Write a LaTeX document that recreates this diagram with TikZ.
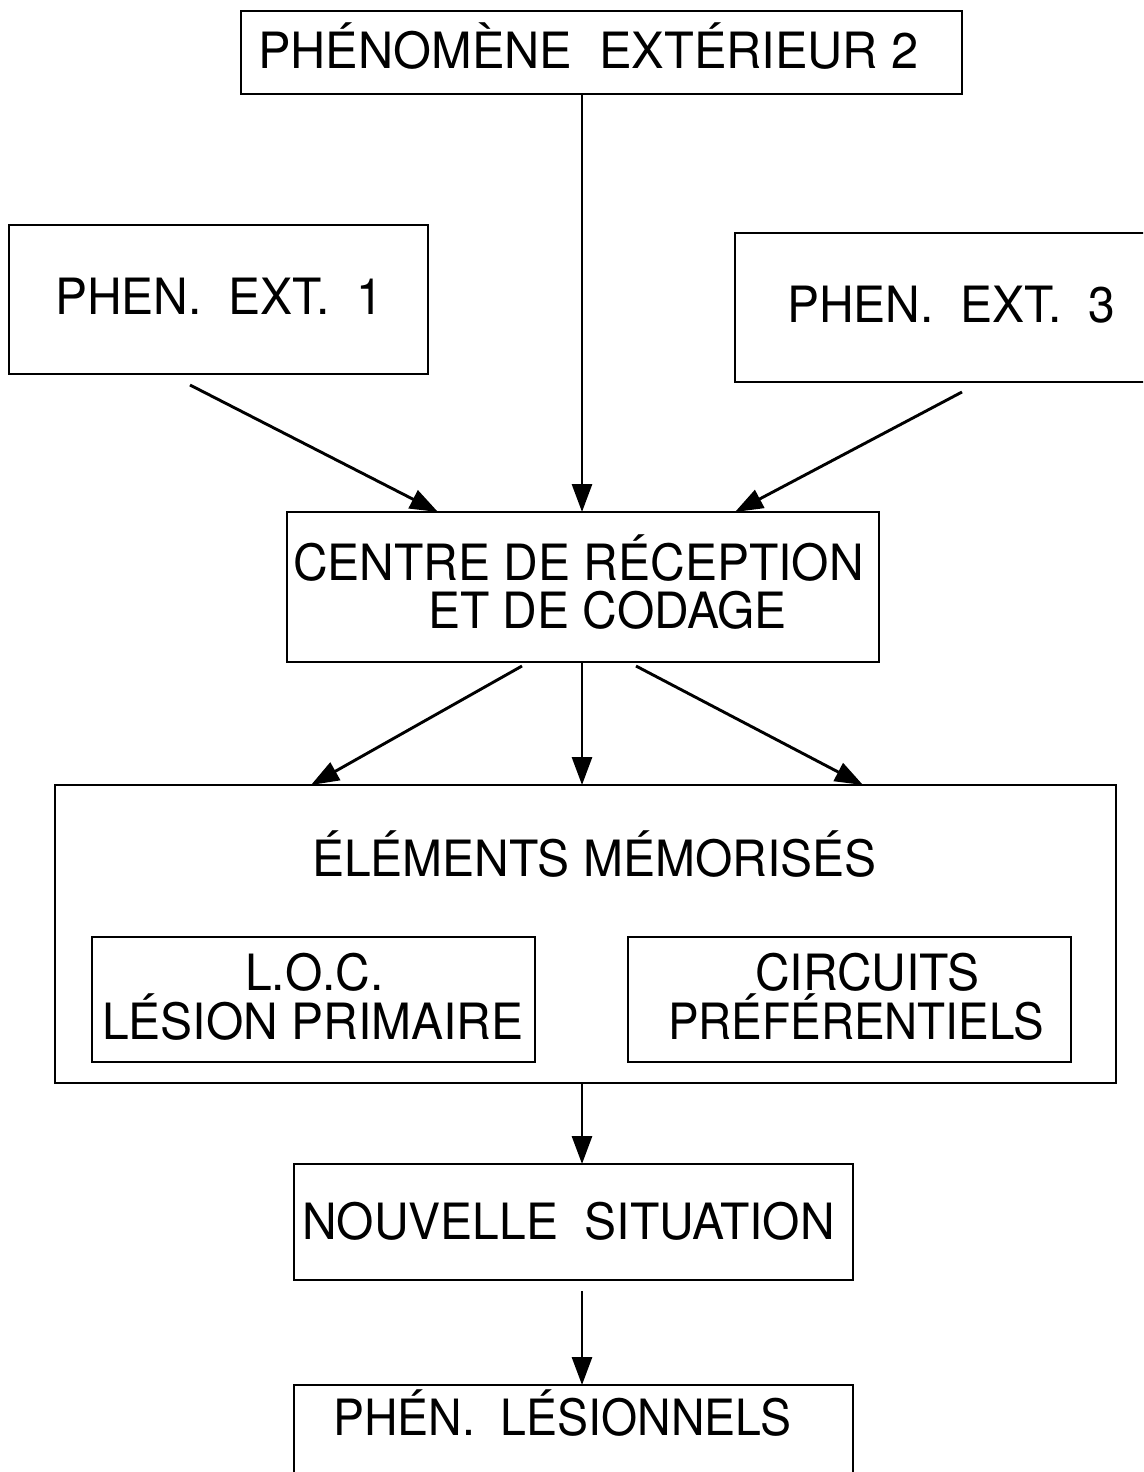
\documentclass[tikz,border=0pt]{standalone}
\usepackage{fontspec}
\usepackage{graphicx}
\setmainfont{TeX Gyre Heros}[FakeStretch=0.96]
\usetikzlibrary{arrows.meta,calc}
\begin{document}
\begin{tikzpicture}[x=1pt,y=-1pt,
  box/.style={draw,line width=2.8pt,anchor=north west,inner sep=0pt,outer sep=0pt},
  lbl/.style={anchor=base west,inner sep=0pt,font=\fontsize{50}{58}\selectfont},
  arr/.style={line width=2.9pt,-{Triangle[length=28pt,width=20pt]}}]
\useasboundingbox (0,0) rectangle (1143,1472);
\clip (0,0) rectangle (1143,1472);

% boxes
\node[box,minimum width=721pt,minimum height=83pt]  (ext2)   at (241,11)   {};
\node[box,minimum width=419pt,minimum height=149pt] (ext1)   at (9,225)    {};
\node[box,minimum width=430pt,minimum height=149pt] (ext3)   at (735,233)  {};
\node[box,minimum width=592pt,minimum height=150pt] (centre) at (287,512)  {};
\node[box,minimum width=1061pt,minimum height=298pt] (mem)   at (55,785)   {};
\node[box,minimum width=443pt,minimum height=125pt] (loc)    at (92,937)   {};
\node[box,minimum width=443pt,minimum height=125pt] (circ)   at (628,937)  {};
\node[box,minimum width=559pt,minimum height=116pt] (nouv)   at (294,1164) {};
\node[box,minimum width=559pt,minimum height=120pt] (les)    at (294,1385) {};

% texts
\node[lbl] (t2)  at (258,68)   {\scalebox{1.015}[1]{PHÉNOMÈNE\ \ EXTÉRIEUR\ 2}};
\node[lbl] (t1)  at (55,314)   {PHEN.\ \ EXT.\ \ 1};
\node[lbl] (t3)  at (787,322)  {PHEN.\ \ EXT.\ \ 3};
\node[lbl] (tc1) at (293,580)  {CENTRE DE RÉCEPTION};
\node[lbl] (tc2) at (428,628)  {ET DE CODAGE};
\node[lbl] (tm)  at (312,876)  {ÉLÉMENTS MÉMORISÉS};
\node[lbl] (tl1) at (245,990)  {L.O.C.};
\node[lbl] (tl2) at (102,1039) {LÉSION PRIMAIRE};
\node[lbl] (tp1) at (755,990)  {CIRCUITS};
\node[lbl] (tp2) at (668,1039) {\scalebox{0.955}[1]{PRÉFÉRENTIELS}};
\node[lbl] (tn)  at (302,1239) {NOUVELLE\ \ SITUATION};
\node[lbl] (tl)  at (333,1435) {\scalebox{0.968}[1]{PHÉN.\ \ LÉSIONNELS}};

% connector start points
\coordinate (s1) at (190,385);
\coordinate (s2) at (582,94);
\coordinate (s3) at (962,392);
\coordinate (s4) at (522,666);
\coordinate (s5) at (582,662);
\coordinate (s6) at (636,666);
\coordinate (s7) at (582,1083);
\coordinate (s8) at (582,1291);

% connectors
\draw[arr] (s1) -- ($(centre.north west)+(151,0)$);
\draw[arr] (s2) -- (s2 |- centre.north);
\draw[arr] (s3) -- ($(centre.north west)+(448,0)$);
\draw[arr] (s4) -- ($(mem.north west)+(256,0)$);
\draw[arr] (s5) -- (s5 |- mem.north);
\draw[arr] (s6) -- ($(mem.north west)+(808,0)$);
\draw[arr] (s7) -- (s7 |- nouv.north);
\draw[arr] (s8) -- (s8 |- les.north);
\end{tikzpicture}
\end{document}
